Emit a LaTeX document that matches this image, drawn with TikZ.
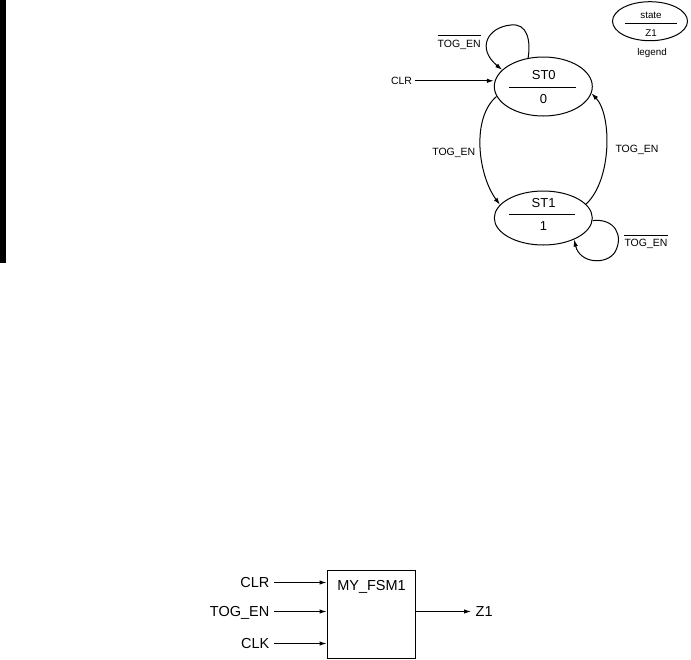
\documentclass[tikz,border=0pt]{standalone}
\usepackage{fontspec}
\setmainfont{Liberation Sans}
\usetikzlibrary{shapes.geometric,arrows.meta,calc}
\tikzset{
 st/.style={draw, ellipse, line width=1pt, inner sep=0pt},
 lbl/.style={inner sep=0pt, text height=7.5pt, text depth=0pt, font=\fontsize{10.5}{12}\selectfont},
 stname/.style={inner sep=0pt, text height=9.3pt, text depth=0pt, font=\fontsize{13}{15}\selectfont},
 legtxt/.style={inner sep=0pt, font=\fontsize{9.8}{11}\selectfont},
 big/.style={inner sep=0pt, text height=10.4pt, text depth=0pt, font=\fontsize{14.5}{17}\selectfont},
 conn/.style={line width=1pt, -{Latex[length=7pt,width=4.5pt]}},
 rulel/.style={line width=1pt},
}
\begin{document}
\begin{tikzpicture}[x=1pt,y=-1pt]
\useasboundingbox (0,0) rectangle (691,659);
\fill[black] (0,0) rectangle (6,263);

% states
\node[st, minimum width=98pt, minimum height=59pt] (st0) at (543.3,86.5) {};
\node[st, minimum width=98pt, minimum height=54pt] (st1) at (543.3,218) {};
\node[st, minimum width=75pt, minimum height=39pt] (leg) at (650,21.2) {};

\draw[rulel] (509,87) -- (576,87);
\draw[rulel] (509,214.3) -- (575,214.3);
\draw[rulel] (625,23) -- (676.5,23);

\node[stname] (st0name) at (543.8,75) {ST0};
\node[stname] (st0out) at (543.6,98.4) {0};
\node[stname] (st1name) at (543.6,202.7) {ST1};
\node[stname] (st1out) at (543.6,225.4) {1};

\node[legtxt, anchor=base] (legstate) at (651,18.3) {state};
\node[legtxt, text height=7pt, text depth=0pt] (legz) at (651,33) {Z1};
\node[legtxt, anchor=base] (legname) at (652,55) {legend};

% reset input
\node[lbl] (clr) at (401.5,80.8) {CLR};
\draw[conn] ([xshift=2.5pt]clr.east) -- (clr -| st0.west);

% transitions
\draw[conn] (st0.118) .. controls (531,40) and (527,23) .. (511,25) .. controls (488,27) and (476,48) .. (st0.158);
\draw[conn] (st0.192) .. controls (471,118) and (478,175) .. (st1.163);
\draw[conn] (st1.18) .. controls (612,180) and (612,115) .. (st0.-8);
\draw[conn] (st1.-3) .. controls (615,218) and (624,236) .. (615,252) .. controls (607,265) and (580,264) .. (st1.-35);

\node[lbl] (lA) at (459.2,43.5) {TOG\_EN};
\draw[rulel] ([yshift=4.5pt]lA.north west) -- ([yshift=4.5pt]lA.north east);
\node[lbl] (lB) at (453.8,151.7) {TOG\_EN};
\node[lbl] (lC) at (637,149.2) {TOG\_EN};
\node[lbl] (lD) at (646,243.2) {TOG\_EN};
\draw[rulel] ([yshift=4pt]lD.north west) -- ([yshift=4pt]lD.north east);

% block
\node[draw, line width=1pt, minimum width=88pt, minimum height=88pt, inner sep=0pt] (fsm) at (371,614) {};
\node[big] (fsmname) at (371.5,585) {MY\_FSM1};
\node[big, anchor=east] (inclr) at (269.5,582.5) {CLR};
\node[big, anchor=east] (intog) at (269.5,611.5) {TOG\_EN};
\node[big, anchor=east] (inclk) at (269.5,643.5) {CLK};
\draw[conn] ([xshift=4.5pt]inclr.east) -- (inclr -| fsm.west);
\draw[conn] ([xshift=4.5pt]intog.east) -- (intog -| fsm.west);
\draw[conn] ([xshift=4.5pt]inclk.east) -- (inclk -| fsm.west);
\node[big, anchor=west] (z1) at (475.5,611.5) {Z1};
\draw[conn] (z1 -| fsm.east) -- ([xshift=-4.5pt]z1.west);
\end{tikzpicture}
\end{document}
